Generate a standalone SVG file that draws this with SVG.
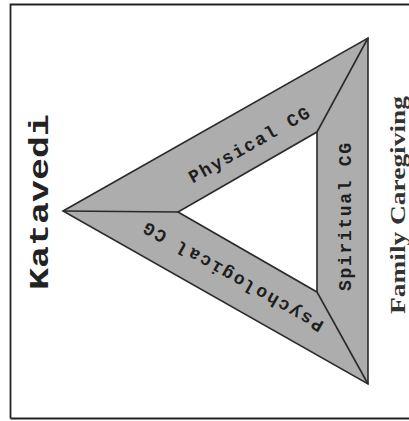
<svg xmlns="http://www.w3.org/2000/svg" width="409" height="421" viewBox="0 0 409 421">
<style>
.band{fill:#adadad;stroke:#2a2a2a;stroke-width:1.6;stroke-linejoin:miter}
.edge{stroke:#2a2a2a;stroke-width:1.6;fill:none}
.mono{font-family:"Liberation Mono","Courier New",monospace;font-weight:bold;font-size:18px;fill:#1e1e1e}
.title{font-family:"Liberation Mono","Courier New",monospace;font-weight:bold;font-size:27px;fill:#222}
.serif{font-family:"Liberation Serif","Times New Roman",serif;font-weight:bold;font-size:21px;fill:#333}
</style>
<rect x="0" y="0" width="409" height="421" fill="#ffffff"/>
<g id="frame">
<path d="M10.5,418.5 V4.5 H409 M10.5,418.5 H409" fill="none" stroke="#222" stroke-width="1.8"/>
</g>
<g id="triangle">
<path class="band" fill-rule="evenodd" d="M63,211 L368,38 L368,384 Z M178,212 L317,292 L317,132 Z"/>
</g>
<g id="connectors">
<line class="edge" x1="63" y1="211" x2="178" y2="212"/>
<line class="edge" x1="317" y1="132" x2="368" y2="38"/>
<line class="edge" x1="317" y1="292" x2="368" y2="384"/>
</g>
<g id="physical">
<text class="mono" text-anchor="middle" textLength="136" lengthAdjust="spacing" transform="translate(252,150) rotate(-29.6)">Physical CG</text>
</g>
<g id="psychological">
<text class="mono" text-anchor="middle" textLength="204" lengthAdjust="spacing" transform="translate(236,272) rotate(209.6)">Psychological CG</text>
</g>
<g id="spiritual">
<text class="mono" text-anchor="middle" textLength="148" lengthAdjust="spacing" transform="translate(351,217) rotate(-90)">Spiritual CG</text>
</g>
<g id="katavedi">
<text class="title" text-anchor="middle" textLength="176" lengthAdjust="spacingAndGlyphs" transform="translate(48,202) rotate(-90)">Katavedi</text>
</g>
<g id="family">
<text class="serif" text-anchor="middle" textLength="218" lengthAdjust="spacingAndGlyphs" transform="translate(405,205) rotate(-90)">Family Caregiving</text>
</g>
</svg>
